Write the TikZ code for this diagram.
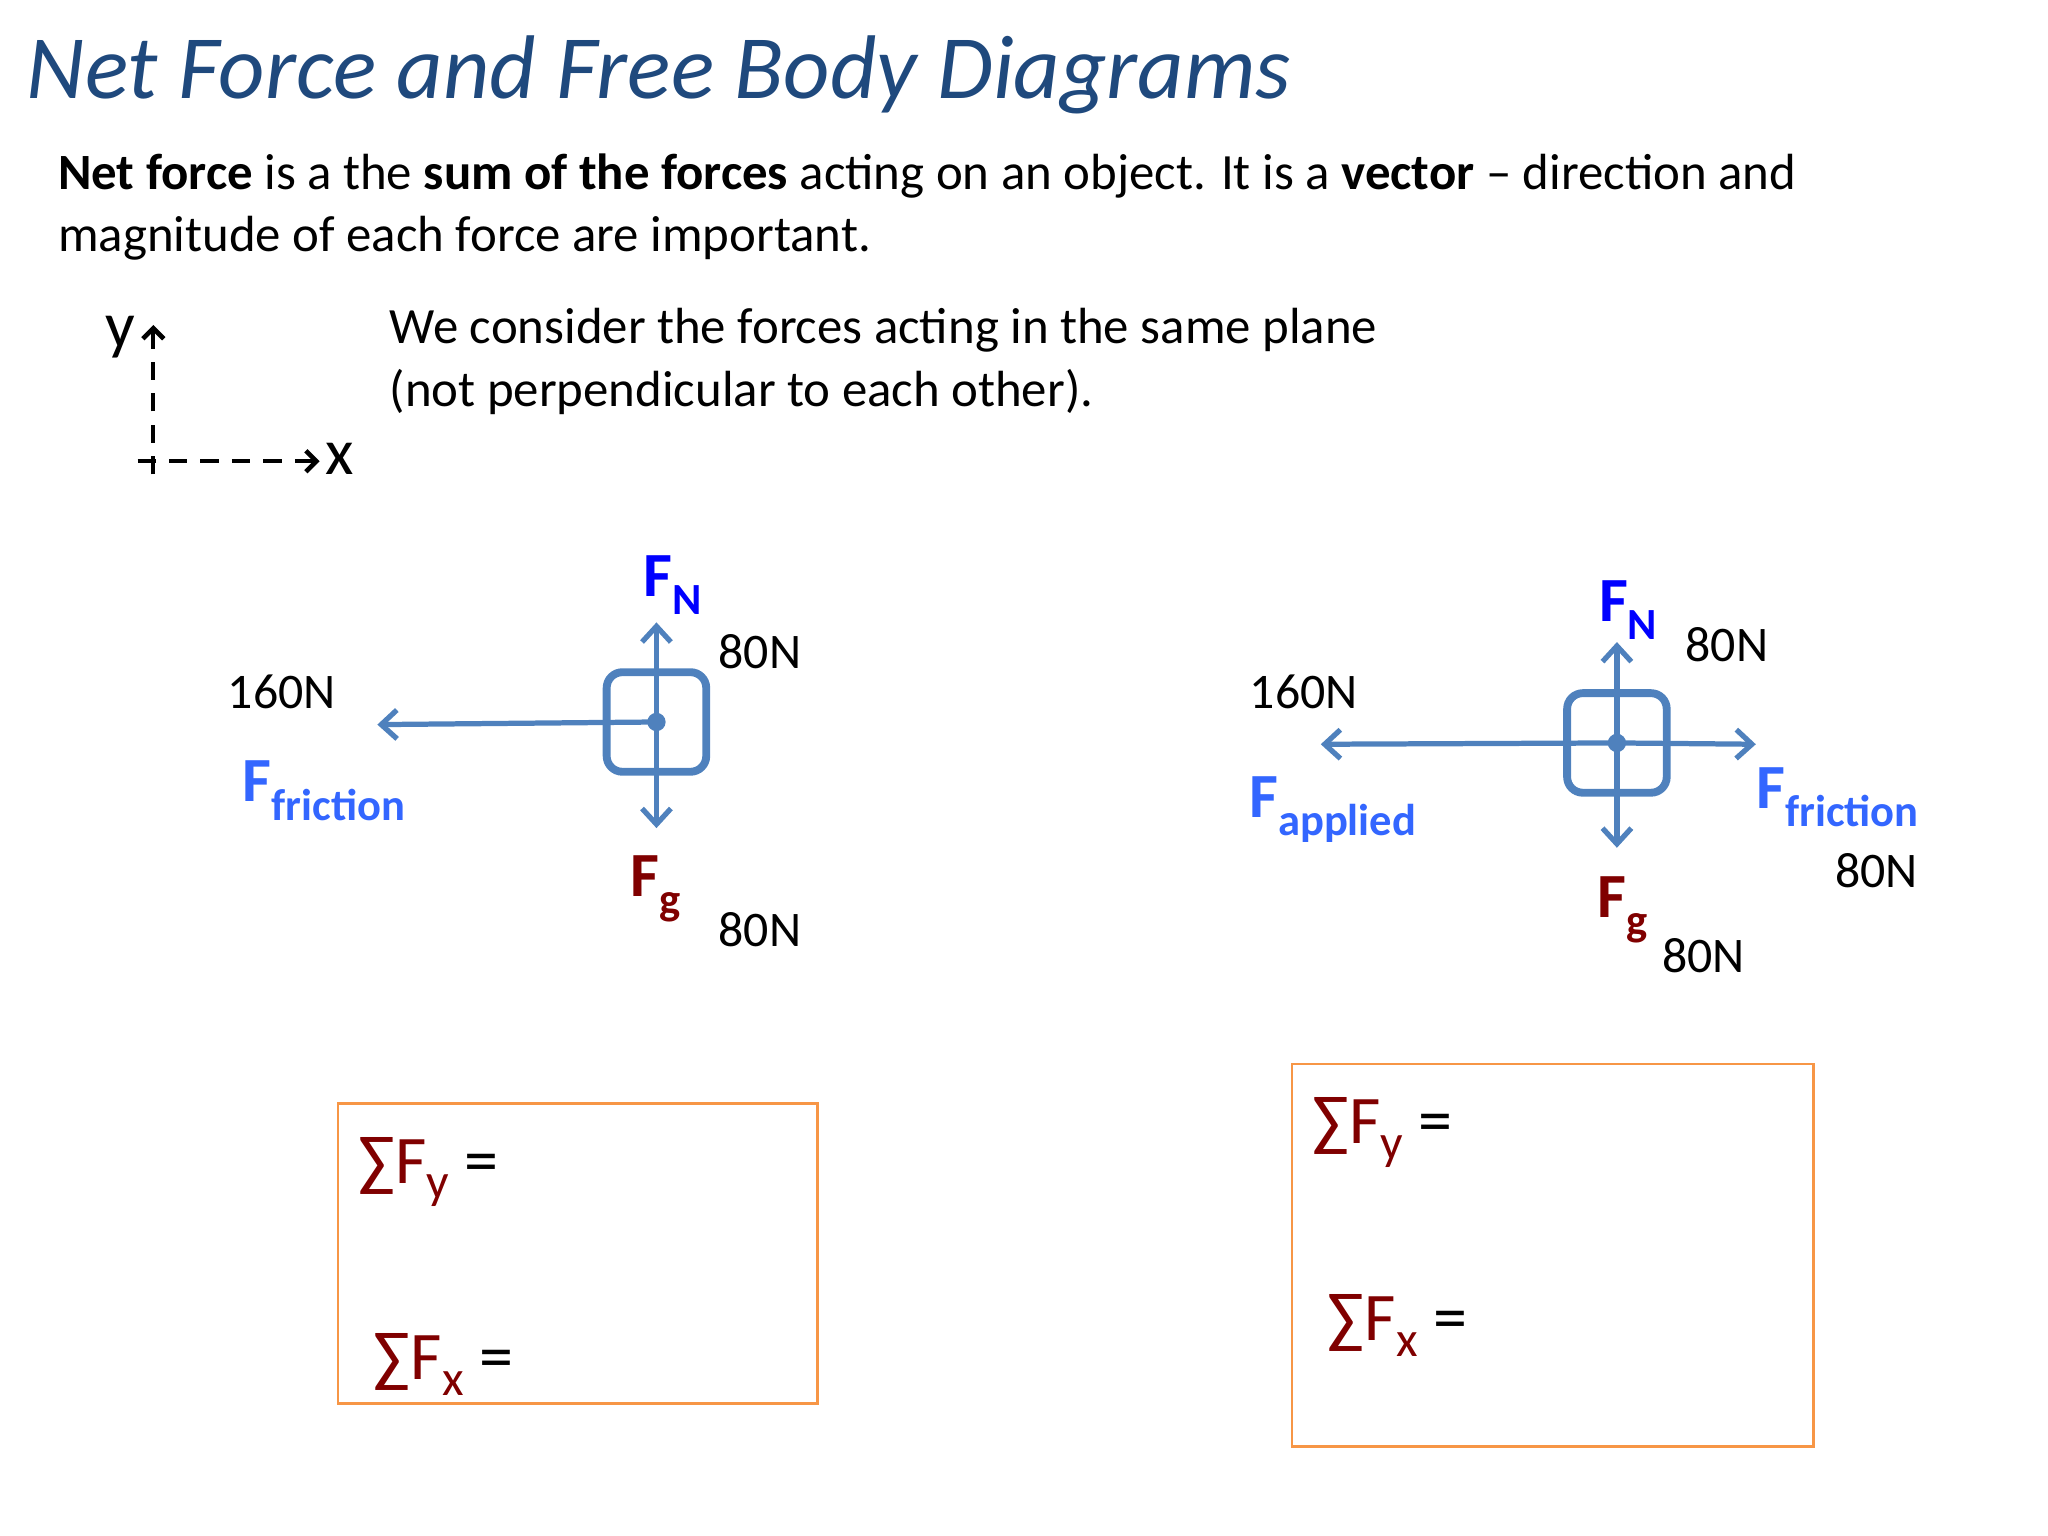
\documentclass[tikz,border=0pt]{standalone}
\usepackage{fontspec}
\setmainfont{Carlito}
\usetikzlibrary{arrows.meta}
\definecolor{titleblue}{HTML}{1F497D}
\definecolor{fbblue}{HTML}{4F81BD}
\definecolor{fnblue}{HTML}{0000FF}
\definecolor{frblue}{HTML}{3366FF}
\definecolor{fgred}{HTML}{800000}
\definecolor{boxor}{HTML}{F79646}
\newcommand{\fsub}[1]{\raisebox{-7pt}{\fontsize{17}{20}\selectfont #1}}
\newcommand{\ssub}[1]{\raisebox{-6pt}{\fontsize{19}{22}\selectfont #1}}
\tikzset{
 lbl/.style={font=\fontsize{19}{22}\selectfont, inner sep=0pt},
 flab/.style={font=\fontsize{24}{26}\selectfont\bfseries, inner sep=0pt},
 fvec/.style={draw=fbblue, line width=2pt, -{Straight Barb[length=6pt,width=11pt,line width=2pt]}},
 body/.style={draw=fbblue, line width=3pt, rounded corners=6pt, minimum size=38pt, inner sep=0pt},
 sumbox/.style={draw=boxor, line width=1pt, inner sep=0pt},
 sumtxt/.style={text=fgred, font=\fontsize{26}{30}\selectfont, inner sep=0pt, anchor=base west},
 ax/.style={line width=1.6pt, dash pattern=on 7pt off 5pt},
 axtip/.style={line width=1.6pt,-{Straight Barb[length=4pt,width=8pt,line width=1.8pt]}}
}
\begin{document}
\begin{tikzpicture}[x=0.5pt,y=-0.5pt]
\useasboundingbox (0,0) rectangle (1563,1172);
\node[anchor=base west, inner sep=0pt, text=titleblue, font=\fontsize{34.5}{40}\selectfont\itshape] (title) at (20,75) {Net Force and Free Body Diagrams};
\node[anchor=base west, inner sep=0pt, font=\fontsize{19.4}{22}\selectfont] (l1) at (44,145) {\textbf{Net force} is a the \textbf{sum of the forces} acting on an object. It is a \textbf{vector} -- direction and};
\node[anchor=base west, inner sep=0pt, font=\fontsize{19.4}{22}\selectfont] (l2) at (44,192) {magnitude of each force are important.};
\node[anchor=base west, inner sep=0pt, font=\fontsize{19.4}{22}\selectfont] (l3) at (297,262) {We consider the forces acting in the same plane};
\node[anchor=base west, inner sep=0pt, font=\fontsize{19.4}{22}\selectfont] (l4) at (297,310) {(not perpendicular to each other).};
% axes
\coordinate (ytop) at (117,248);
\coordinate (xend) at (244,352);
\draw[ax] (117,362) -- (117,262);
\draw[ax] (105,352) -- (232,352);
\draw[axtip] (117,266) -- (ytop);
\draw[axtip] (232,352) -- (xend);
\node[anchor=base, inner sep=0pt, font=\fontsize{25}{28}\selectfont] (ylab) at (92,265) {y};
\node[anchor=base, inner sep=0pt, font=\fontsize{25}{28}\selectfont] (xlab) at (259,362) {x};
% left diagram
\node[body] (b1) at (501,551) {};
\fill[fbblue] (b1.center) circle (7);
\coordinate (b1u) at (501,475);
\coordinate (b1d) at (501,632);
\coordinate (b1l) at (288,553);
\draw[fvec] (b1.center) -- (b1u);
\draw[fvec] (b1.center) -- (b1d);
\draw[fvec] (b1.center) -- (b1l);
\node[flab, text=fnblue, anchor=base west] (fn1) at (491,455) {F\fsub{N}};
\node[lbl, anchor=base] (n1a) at (580,510) {80N};
\node[lbl, anchor=base] (n1b) at (215,541) {160N};
\node[flab, text=frblue, anchor=base west] (ff1) at (185,612) {F\fsub{friction}};
\node[flab, text=fgred, anchor=base west] (fg1) at (481,684) {F\fsub{g}};
\node[lbl, anchor=base] (n1c) at (580,722) {80N};
% right diagram
\node[body] (b2) at (1234,567) {};
\fill[fbblue] (b2.center) circle (7);
\coordinate (b2u) at (1234,490);
\coordinate (b2d) at (1234,647);
\coordinate (b2l) at (1008,568);
\coordinate (b2r) at (1340,568);
\draw[fvec] (b2.center) -- (b2u);
\draw[fvec] (b2.center) -- (b2d);
\draw[fvec] (b2.center) -- (b2l);
\draw[fvec] (b2.center) -- (b2r);
\node[flab, text=fnblue, anchor=base west] (fn2) at (1220,474) {F\fsub{N}};
\node[lbl, anchor=base] (n2a) at (1318,505) {80N};
\node[lbl, anchor=base] (n2b) at (995,541) {160N};
\node[flab, text=frblue, anchor=base west] (fa2) at (953,624) {F\fsub{applied}};
\node[flab, text=frblue, anchor=base west] (ff2) at (1340,617) {F\fsub{friction}};
\node[lbl, anchor=base] (n2c) at (1432,677) {80N};
\node[flab, text=fgred, anchor=base west] (fg2) at (1219,700) {F\fsub{g}};
\node[lbl, anchor=base] (n2d) at (1300,742) {80N};
% sum boxes
\draw[sumbox] (258,842) rectangle (624,1071);
\draw[sumbox] (986,812) rectangle (1384,1104);
\node[sumtxt] (s1) at (273,903) {∑F\ssub{y} \textcolor{black}{=}};
\node[sumtxt] (s2) at (285,1053) {∑F\ssub{x} \textcolor{black}{=}};
\node[sumtxt] (s3) at (1001,873) {∑F\ssub{y} \textcolor{black}{=}};
\node[sumtxt] (s4) at (1013,1023) {∑F\ssub{x} \textcolor{black}{=}};
\end{tikzpicture}
\end{document}
